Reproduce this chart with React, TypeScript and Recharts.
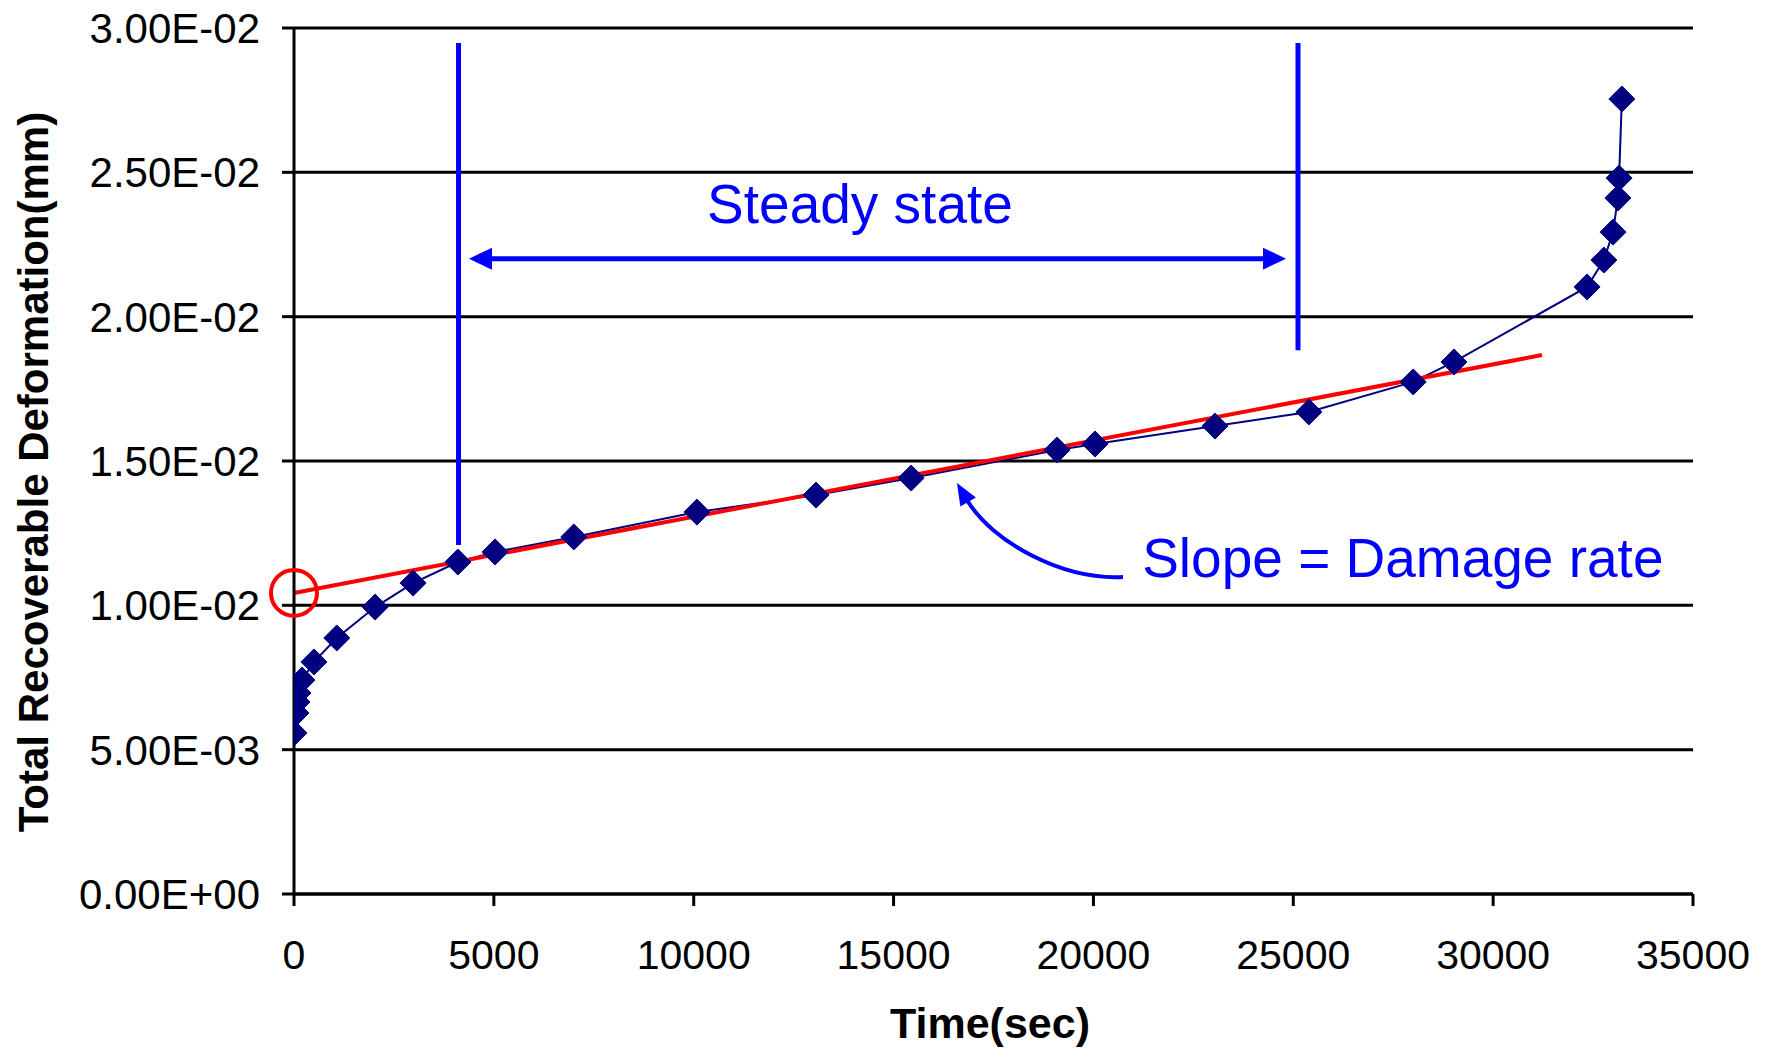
import React from 'react';
import {
  LineChart,
  Line,
  XAxis,
  YAxis,
  CartesianGrid,
  ReferenceLine,
  ReferenceDot,
  Label,
} from 'recharts';

// ---- data ----
const timeSec = [
  0, 50, 75, 100, 200, 500, 1070, 2030, 2980, 4100, 5030, 7000, 10080, 13060,
  15440, 19090, 20040, 23040, 25390, 28000, 29020, 32350, 32770, 33000, 33120,
  33150, 33220,
];
const deformation = [
  0.00558, 0.00627, 0.00665, 0.00696, 0.00741, 0.00804, 0.00887, 0.00994,
  0.01077, 0.0115, 0.01185, 0.01237, 0.01323, 0.01382, 0.01441, 0.01538,
  0.01559, 0.01621, 0.0167, 0.01774, 0.01843, 0.02103, 0.02196, 0.02293,
  0.02411, 0.0248, 0.02754,
];

const xTicks = [0, 5000, 10000, 15000, 20000, 25000, 30000, 35000];
const yTicks = [0, 0.005, 0.01, 0.015, 0.02, 0.025, 0.03];

// annotation anchors (data units)
const trendTimes = [0, 31220];
const trendValues = [0.01043, 0.01867];
const steadyTimes = [4116, 25118];
const steadyTop = [0.02948, 0.02948];
const steadyBottom = [0.01209, 0.01884];
const steadyArrowTimes = [4378, 24818];
const steadyArrowValue = 0.02201;
const steadyLabelPos = { t: 14160, v: 0.02324 };
const slopeLabelPos = { t: 21220, v: 0.01098 };
const slopeArrowHead = { t: 16587, v: 0.01424 };
const slopeArrowTail = { t: 20740, v: 0.01098 };

const data = timeSec.map((t, i) => ({ t, v: deformation[i] }));

const FONT = '"Liberation Sans", Arial, Helvetica, sans-serif';
const NAVY = '#000080';
const BLUE = '#0000FF';
const RED = '#FF0000';

const fmtSci = (v: number) => {
  const [m, e] = v.toExponential(2).split('e');
  const sign = e[0] === '-' ? '-' : '+';
  const digits = e.replace(/[+-]/, '').padStart(2, '0');
  return `${m.toUpperCase()}E${sign}${digits}`;
};

const YTick = (p: any) => (
  <text
    x={p.x}
    y={p.y}
    dy="0.36em"
    textAnchor="end"
    fontFamily={FONT}
    fontSize={42}
    fill="#000"
  >
    {fmtSci(p.payload.value)}
  </text>
);

const XTick = (p: any) => (
  <text
    x={p.x}
    y={p.y}
    dy="0.71em"
    textAnchor="middle"
    fontFamily={FONT}
    fontSize={41}
    fill="#000"
  >
    {String(p.payload.value)}
  </text>
);

const Diamond = (p: any) => {
  const { cx, cy, index } = p;
  if (cx == null || cy == null) return <g key={`d-${index}`} />;
  const h = 13;
  return (
    <polygon
      key={`d-${index}`}
      points={`${cx},${cy - h} ${cx + h},${cy} ${cx},${cy + h} ${cx - h},${cy}`}
      fill={NAVY}
      stroke={NAVY}
      strokeWidth={1}
    />
  );
};

const DoubleArrow = (p: any) => {
  const { x1, y1, x2, y2 } = p;
  const L = 23;
  const W = 11;
  const xa = Math.min(x1, x2);
  const xb = Math.max(x1, x2);
  const y = (y1 + y2) / 2;
  return (
    <g>
      <line x1={xa + L - 2} y1={y} x2={xb - L + 2} y2={y} stroke={BLUE} strokeWidth={5} />
      <polygon points={`${xa},${y} ${xa + L},${y - W} ${xa + L},${y + W}`} fill={BLUE} />
      <polygon points={`${xb},${y} ${xb - L},${y - W} ${xb - L},${y + W}`} fill={BLUE} />
    </g>
  );
};

const CurvedArrow = (p: any) => {
  // x1,y1 = head ; x2,y2 = tail
  const { x1, y1, x2, y2 } = p;
  const c1x = x2 - 60;
  const c1y = y2 + 3;
  const c2x = x1 + 35;
  const c2y = y1 + 60;
  const dx = x1 - c2x;
  const dy = y1 - c2y;
  const len = Math.sqrt(dx * dx + dy * dy);
  const ux = dx / len;
  const uy = dy / len;
  const L = 22;
  const W = 9;
  const bx = x1 - ux * L;
  const by = y1 - uy * L;
  const px = -uy * W;
  const py = ux * W;
  return (
    <g>
      <path
        d={`M${x2},${y2} C${c1x},${c1y} ${c2x},${c2y} ${bx + ux * 4},${by + uy * 4}`}
        fill="none"
        stroke={BLUE}
        strokeWidth={4}
      />
      <polygon
        points={`${x1},${y1} ${bx + px},${by + py} ${bx - px},${by - py}`}
        fill={BLUE}
      />
    </g>
  );
};

const TextShape = (text: string, anchor: 'start' | 'middle' | 'end') => (p: any) => (
  <text
    x={p.cx}
    y={p.cy}
    textAnchor={anchor}
    fontFamily={FONT}
    fontSize={55}
    fill={BLUE}
  >
    {text}
  </text>
);

const CircleShape = (p: any) => (
  <circle cx={p.cx} cy={p.cy} r={23} fill="none" stroke={RED} strokeWidth={4} />
);

export default function App() {
  return (
    <div style={{ position: 'absolute', left: 0, top: 0, background: '#fff' }}>
      <LineChart
        width={1772}
        height={1048}
        data={data}
        margin={{ top: 28, right: 79, bottom: 0, left: 0 }}
      >
        <CartesianGrid vertical={false} stroke="#000" strokeWidth={3} />
        <XAxis
          type="number"
          dataKey="t"
          domain={[0, 35000]}
          ticks={xTicks}
          interval={0}
          allowDataOverflow
          height={154}
          tickSize={12}
          tickMargin={34}
          axisLine={{ stroke: '#000', strokeWidth: 3 }}
          tickLine={{ stroke: '#000', strokeWidth: 3 }}
          tick={XTick}
        >
          <Label
            content={() => (
              <text
                x={990}
                y={1038}
                textAnchor="middle"
                fontFamily={FONT}
                fontSize={43}
                fontWeight="bold"
                fill="#000"
              >
                Time(sec)
              </text>
            )}
          />
        </XAxis>
        <YAxis
          type="number"
          domain={[0, 0.03]}
          ticks={yTicks}
          interval={0}
          allowDataOverflow
          width={294}
          tickSize={12}
          tickMargin={22}
          axisLine={{ stroke: '#000', strokeWidth: 3 }}
          tickLine={{ stroke: '#000', strokeWidth: 3 }}
          tick={YTick}
        >
          <Label
            content={() => (
              <text
                x={48}
                y={472}
                transform="rotate(-90, 48, 472)"
                textAnchor="middle"
                fontFamily={FONT}
                fontSize={42}
                fontWeight="bold"
                fill="#000"
              >
                Total Recoverable Deformation(mm)
              </text>
            )}
          />
        </YAxis>

        {/* steady-state markers */}
        <ReferenceLine
          ifOverflow="visible"
          segment={[
            { x: steadyTimes[0], y: steadyTop[0] },
            { x: steadyTimes[0], y: steadyBottom[0] },
          ]}
          stroke={BLUE}
          strokeWidth={5}
        />
        <ReferenceLine
          ifOverflow="visible"
          segment={[
            { x: steadyTimes[1], y: steadyTop[1] },
            { x: steadyTimes[1], y: steadyBottom[1] },
          ]}
          stroke={BLUE}
          strokeWidth={5}
        />
        <ReferenceLine
          ifOverflow="visible"
          segment={[
            { x: steadyArrowTimes[0], y: steadyArrowValue },
            { x: steadyArrowTimes[1], y: steadyArrowValue },
          ]}
          shape={DoubleArrow}
        />
        <ReferenceDot
          ifOverflow="visible"
          x={steadyLabelPos.t}
          y={steadyLabelPos.v}
          r={1}
          shape={TextShape('Steady state', 'middle')}
        />

        <Line
          type="linear"
          dataKey="v"
          stroke={NAVY}
          strokeWidth={2}
          dot={Diamond}
          activeDot={false}
          isAnimationActive={false}
        />

        {/* damage-rate trend line */}
        <ReferenceLine
          ifOverflow="visible"
          segment={[
            { x: trendTimes[0], y: trendValues[0] },
            { x: trendTimes[1], y: trendValues[1] },
          ]}
          stroke={RED}
          strokeWidth={4}
        />
        <ReferenceDot
          ifOverflow="visible"
          x={trendTimes[0]}
          y={trendValues[0]}
          r={23}
          shape={CircleShape}
        />

        <ReferenceLine
          ifOverflow="visible"
          segment={[
            { x: slopeArrowHead.t, y: slopeArrowHead.v },
            { x: slopeArrowTail.t, y: slopeArrowTail.v },
          ]}
          shape={CurvedArrow}
        />
        <ReferenceDot
          ifOverflow="visible"
          x={slopeLabelPos.t}
          y={slopeLabelPos.v}
          r={1}
          shape={TextShape('Slope = Damage rate', 'start')}
        />
      </LineChart>
    </div>
  );
}
